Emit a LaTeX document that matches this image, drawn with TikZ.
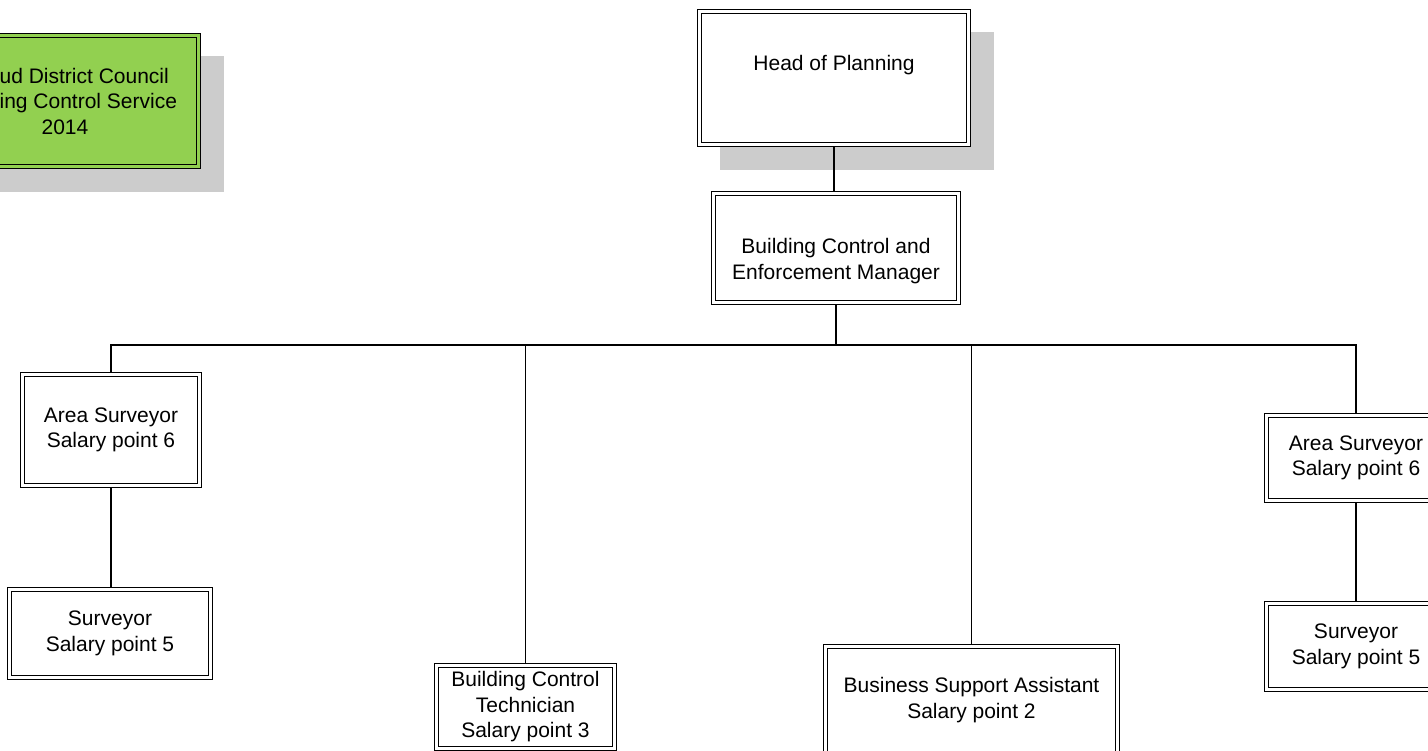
\documentclass[tikz,border=0pt]{standalone}
\usepackage{fontspec}
\setmainfont{Liberation Sans}
\definecolor{boxgreen}{HTML}{92D050}
\definecolor{shadowgray}{HTML}{CCCCCC}
\begin{document}
\begin{tikzpicture}[x=1pt,y=-1pt,
  dbox/.style={draw, line width=1.3pt, double=white, double distance=2.4pt, fill=white,
    inner sep=0pt, outer sep=2.5pt, align=center, font=\fontsize{21}{25.5}\selectfont},
  txt/.style={align=center, inner sep=0pt, font=\fontsize{21}{25.5}\selectfont},
  conn/.style={line width=1.4pt},
  shadowbox/.style={fill=shadowgray, draw=none}]
\useasboundingbox (0,0) rectangle (1428,751);
\clip (0,0) rectangle (1428,751);
% shadows
\fill[shadowbox] (-48,56) rectangle (224,192);
\fill[shadowbox] (720,32) rectangle (994,170);
% title
\node[dbox, fill=boxgreen, double=boxgreen, minimum width=267pt, minimum height=131pt] (title) at (65,101)
  {Stroud District Council\\Building Control Service\\2014};
% boxes
\node[dbox, minimum width=269pt, minimum height=133pt] (hop) at (834,78) {};
\node[txt] (hopt) at (834,65) {Head of Planning};
\node[dbox, minimum width=245pt, minimum height=109pt] (bcm) at (836,248) {};
\node[txt] (bcmt) at (836,261) {Building Control and\\Enforcement Manager};
\node[dbox, minimum width=177pt, minimum height=111pt] (las) at (111,430) {Area Surveyor\\Salary point 6};
\node[dbox, minimum width=201pt, minimum height=88pt] (lsv) at (110,633.5) {Surveyor\\Salary point 5};
\node[dbox, minimum width=178pt, minimum height=83pt] (tech) at (525.5,707) {Building Control\\Technician\\Salary point 3};
\node[dbox, minimum width=292pt, minimum height=107pt] (bsa) at (971.5,700) {Business Support Assistant\\Salary point 2};
\node[dbox, minimum width=179pt, minimum height=85pt] (ras) at (1356,458) {Area Surveyor\\Salary point 6};
\node[dbox, minimum width=179pt, minimum height=86pt] (rsv) at (1356,646.5) {Surveyor\\Salary point 5};
% connectors
\coordinate (bus) at (836,345);
\draw[conn] (hop.south) -- (hop.south |- bcm.north);
\draw[conn] (bcm.south) -- (bus);
\draw[conn] (bus) -| (las.north);
\draw[conn] (bus) -| (tech.north);
\draw[conn] (bus) -| (bsa.north);
\draw[conn] (bus) -| (ras.north);
\draw[conn] (las.south) -- (las.south |- lsv.north);
\draw[conn] (ras.south) -- (ras.south |- rsv.north);
\end{tikzpicture}
\end{document}
